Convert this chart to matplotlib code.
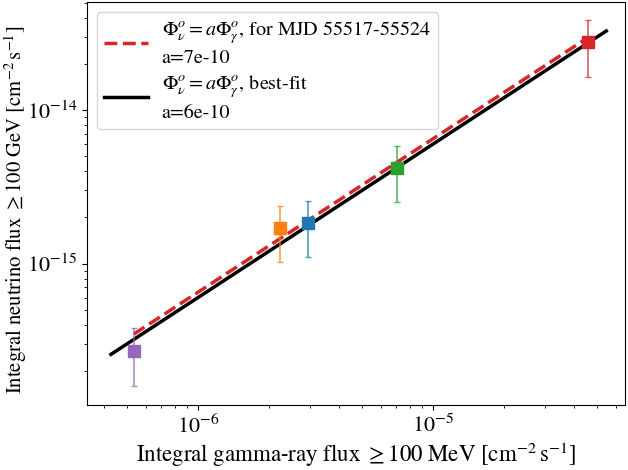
import numpy as np
from matplotlib import pyplot as plt

plt.rcParams['font.family'] = 'STIXGeneral'
plt.rcParams['mathtext.fontset'] = 'stix'

# gamma-ray flux (x), neutrino flux (y) with asymmetric errors
gamma_flux = [5.34e-7, 2.23e-6, 2.94e-6, 7.05e-6, 4.55e-5]
nu_flux = [2.69e-16, 1.70e-15, 1.85e-15, 4.17e-15, 2.76e-14]
nu_upper = [3.80e-16, 2.38e-15, 2.56e-15, 5.85e-15, 3.86e-14]
nu_lower = [1.59e-16, 1.02e-15, 1.10e-15, 2.51e-15, 1.65e-14]
point_colors = ['#9467bd', '#ff7f0e', '#1f77b4', '#2ca02c', '#d62728']

a_mjd = 6.5e-10
a_best = 6.0e-10

fig = plt.figure(figsize=(6.28, 4.70), dpi=100)
ax = fig.add_axes([87 / 628, 1 - 405 / 470, 538 / 628, 403 / 470])

x_all = np.logspace(np.log10(min(gamma_flux) * 0.8), np.log10(max(gamma_flux) * 1.2), 50)
x_data = np.logspace(np.log10(min(gamma_flux)), np.log10(max(gamma_flux)), 50)

ax.plot(x_data, a_mjd * x_data, color='#d62728', ls='--', lw=2.5, zorder=3,
        label=r'$\Phi^o_\nu = a\Phi^o_\gamma$, for MJD 55517-55524' + '\na=7e-10')
ax.plot(x_all, a_best * x_all, color='black', lw=2.5, zorder=2,
        label=r'$\Phi^o_\nu = a\Phi^o_\gamma$, best-fit' + '\na=6e-10')

for i in range(len(gamma_flux)):
    y = nu_flux[i]
    yerr = [[y - nu_lower[i]], [nu_upper[i] - y]]
    ax.errorbar([gamma_flux[i]], [y], yerr=yerr, fmt='s', color=point_colors[i], ms=9,
                ecolor=(point_colors[i], 0.75), elinewidth=1.2, capsize=2, zorder=4)

ax.set_xscale('log')
ax.set_yscale('log')
ax.set_xlim(3.38e-7, 6.56e-5)
ax.set_ylim(1.20e-16, 5.06e-14)
ax.tick_params(labelsize=16)
ax.set_xlabel(r'Integral gamma-ray flux $\geq$100 MeV [cm$^{-2}\,$s$^{-1}$]', fontsize=16.5,
              labelpad=2)
ax.set_ylabel(r'Integral neutrino flux $\geq$100 GeV [cm$^{-2}\,$s$^{-1}$]', fontsize=14.9)
ax.yaxis.set_label_coords(-0.108, 0.484)
leg = ax.legend(loc='upper left', fontsize=14.5, handlelength=2.2, handletextpad=0.65,
                labelspacing=0.3, borderpad=0.35)
for t in leg.get_texts():
    t.set_linespacing(1.35)

fig.savefig('out.png', dpi=100)
